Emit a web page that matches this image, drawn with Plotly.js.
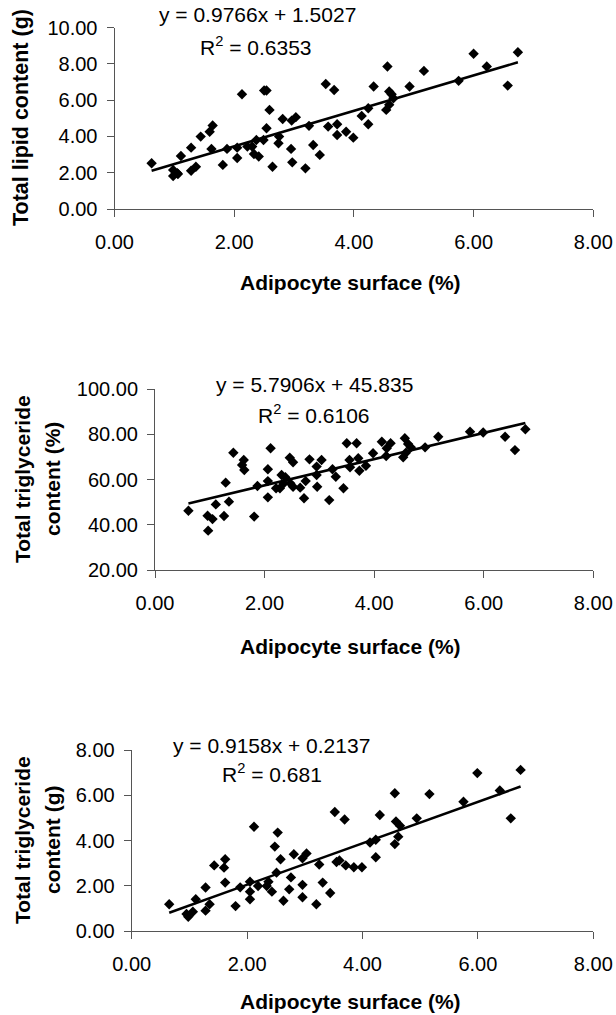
<!DOCTYPE html>
<html>
<head>
<meta charset="utf-8">
<script src="https://cdn.plot.ly/plotly-3.0.1.min.js"></script>
<style>html,body{margin:0;padding:0;background:#fff;}#chart{width:616px;height:1015px;}</style>
</head>
<body>
<div id="chart"></div>
<script>
// ---- Panel 1: Total lipid content (g) ----
const x1 = [0.62,0.98,0.98,1.05,1.06,1.11,1.28,1.28,1.36,1.44,1.59,1.64,1.62,1.81,1.88,2.05,2.05,2.13,2.22,2.30,2.33,2.37,2.41,2.49,2.50,2.54,2.54,2.59,2.64,2.74,2.75,2.81,2.95,2.96,2.97,3.03,3.19,3.25,3.32,3.43,3.53,3.57,3.67,3.72,3.72,3.87,3.99,4.13,4.24,4.24,4.33,4.56,4.54,4.59,4.59,4.63,4.66,4.93,5.17,5.75,6.00,6.22,6.57,6.74];
const y1 = [2.52,2.15,1.82,1.97,1.93,2.92,3.38,2.11,2.33,3.99,4.26,4.60,3.31,2.43,3.31,2.81,3.38,6.32,3.44,3.44,3.03,3.80,2.89,3.80,6.53,6.53,4.45,5.46,2.33,3.62,3.99,4.96,3.31,4.87,2.57,5.06,2.24,4.58,3.53,2.98,6.89,4.54,6.56,4.67,4.08,4.26,3.93,5.13,4.67,5.55,6.75,7.85,5.46,5.74,6.47,6.32,6.10,6.75,7.61,7.06,8.55,7.85,6.80,8.64];
const fit1 = {slope: 0.9766, intercept: 1.5027, r2: "0.6353"};

// ---- Panel 2: Total triglyceride content (%) ----
const x2 = [0.61,0.96,0.97,1.05,1.11,1.26,1.29,1.35,1.43,1.59,1.62,1.63,1.81,1.87,2.06,2.06,2.06,2.11,2.21,2.28,2.31,2.35,2.38,2.46,2.52,2.47,2.52,2.65,2.72,2.75,2.82,2.95,2.96,2.95,3.04,3.18,3.24,3.30,3.44,3.50,3.55,3.56,3.68,3.71,3.73,3.85,3.98,4.14,4.22,4.23,4.30,4.53,4.56,4.58,4.62,4.67,4.93,5.17,5.75,5.99,6.39,6.57,6.76];
const y2 = [46.2,44.0,37.4,42.5,49.0,43.9,58.6,50.2,71.8,66.4,68.6,64.2,43.6,57.1,64.5,59.3,52.1,73.8,56.1,56.1,62.0,58.3,61.0,69.6,67.6,58.3,56.8,56.4,51.7,59.3,68.9,65.7,56.8,62.0,68.6,50.9,64.5,61.2,56.1,76.0,68.6,65.4,76.0,69.4,63.9,66.1,71.6,76.7,70.4,73.8,76.0,69.8,78.2,71.8,75.7,74.2,74.2,78.9,81.1,80.8,78.9,73.0,82.2];
const fit2 = {slope: 5.7906, intercept: 45.835, r2: "0.6106"};

// ---- Panel 3: Total triglyceride content (g) ----
const x3 = [0.65,0.95,0.98,1.06,1.11,1.28,1.28,1.35,1.43,1.60,1.62,1.62,1.80,1.88,2.05,2.05,2.05,2.12,2.19,2.34,2.37,2.43,2.48,2.51,2.53,2.58,2.63,2.73,2.76,2.81,2.96,2.96,2.96,3.03,3.20,3.25,3.31,3.44,3.52,3.55,3.60,3.69,3.71,3.85,3.99,4.13,4.23,4.23,4.30,4.56,4.56,4.58,4.62,4.65,4.94,5.16,5.75,5.99,6.38,6.57,6.74];
const y3 = [1.18,0.75,0.63,0.85,1.40,1.92,0.90,1.18,2.90,2.80,3.17,2.14,1.10,1.93,2.18,1.74,1.40,4.61,1.99,1.99,2.18,1.74,3.73,2.58,4.35,3.17,1.34,1.84,2.37,3.39,2.04,1.49,3.21,3.43,1.18,2.94,2.14,1.68,5.26,3.05,3.12,4.93,2.90,2.82,2.82,3.91,4.03,3.26,5.13,6.09,3.84,4.84,4.17,4.65,4.98,6.05,5.71,6.98,6.21,4.98,7.12];
const fit3 = {slope: 0.9158, intercept: 0.2137, r2: "0.681"};

const xTickVals = [0, 2, 4, 6, 8];
const xTitle = "Adipocyte surface (%)";

const W = 616, H = 1015;
const px = v => v / W;
const py = v => 1 - v / H;
const FONT = "Liberation Sans, Arial, sans-serif";

function fitLine(xs, f) {
  const lo = Math.min(...xs), hi = Math.max(...xs);
  return [[lo, hi], [f.slope * lo + f.intercept, f.slope * hi + f.intercept]];
}

const traces = [];
const sets = [[x1, y1, fit1, 'x', 'y'], [x2, y2, fit2, 'x2', 'y2'], [x3, y3, fit3, 'x3', 'y3']];
sets.forEach(([xs, ys, f, xa, ya]) => {
  traces.push({type: 'scatter', mode: 'markers', x: xs, y: ys, xaxis: xa, yaxis: ya,
    marker: {symbol: 'diamond', size: 8, color: '#000'}, hoverinfo: 'skip'});
  const [lx, ly] = fitLine(xs, f);
  traces.push({type: 'scatter', mode: 'lines', x: lx, y: ly, xaxis: xa, yaxis: ya,
    line: {color: '#000', width: 2.5}, hoverinfo: 'skip'});
});

function xAxis(domain, anchor) {
  return {domain: domain, anchor: anchor, range: [0, 8], tickvals: xTickVals, tickformat: '.2f',
    showgrid: false, zeroline: false, showline: true, linecolor: '#555', linewidth: 1,
    ticks: 'outside', ticklen: 7, tickcolor: '#555', ticklabelstandoff: 8,
    tickfont: {family: FONT, size: 20, color: '#000'}, fixedrange: true};
}
function yAxis(domain, anchor, range, dtick) {
  return {domain: domain, anchor: anchor, range: range, dtick: dtick, tick0: range[0], tickformat: '.2f',
    showgrid: false, zeroline: false, showline: true, linecolor: '#555', linewidth: 1,
    ticks: 'outside', ticklen: 7, tickcolor: '#555', ticklabelstandoff: 5,
    tickfont: {family: FONT, size: 20, color: '#000'}, fixedrange: true};
}

const ann = [];
function text(t, x, y, size, bold, angle) {
  ann.push({text: bold ? '<b>' + t + '</b>' : t, x: px(x), y: py(y), xref: 'paper', yref: 'paper',
    showarrow: false, xanchor: 'center', yanchor: 'middle', textangle: angle || 0,
    font: {family: FONT, size: size, color: '#000'}});
}
// equations
text('y = ' + fit1.slope + 'x + ' + fit1.intercept, 257, 15, 21);
text('R<sup>2</sup> = ' + fit1.r2, 256, 46, 21);
text('y = ' + fit2.slope + 'x + ' + fit2.intercept, 314, 384, 21);
text('R<sup>2</sup> = ' + fit2.r2, 314, 414, 21);
text('y = ' + fit3.slope + 'x + ' + fit3.intercept, 271, 745, 21);
text('R<sup>2</sup> = ' + fit3.r2, 272, 773, 21);
// x titles
text(xTitle, 350, 282, 21, true);
text(xTitle, 350, 646, 21, true);
text(xTitle, 350, 1001, 21, true);
// y titles
text('Total lipid content (g)', 21, 118, 21.5, true, -90);
text('Total triglyceride', 22, 479, 21, true, -90);
text('content (%)', 52, 479, 21, true, -90);
text('Total triglyceride', 22, 840, 21, true, -90);
text('content (g)', 52, 840, 21, true, -90);

const layout = {
  width: W, height: H, margin: {l: 0, r: 0, t: 0, b: 0}, showlegend: false,
  paper_bgcolor: '#fff', plot_bgcolor: '#fff',
  xaxis: xAxis([px(114.5), px(593.3)], 'y'),
  yaxis: yAxis([py(209), py(27.5)], 'x', [0, 10], 2),
  xaxis2: xAxis([px(155), px(593.3)], 'y2'),
  yaxis2: yAxis([py(570), py(389)], 'x2', [20, 100], 20),
  xaxis3: xAxis([px(131.7), px(593.3)], 'y3'),
  yaxis3: yAxis([py(931), py(750)], 'x3', [0, 8], 2),
  annotations: ann
};

Plotly.newPlot('chart', traces, layout, {staticPlot: true, displayModeBar: false});
</script>
</body>
</html>
